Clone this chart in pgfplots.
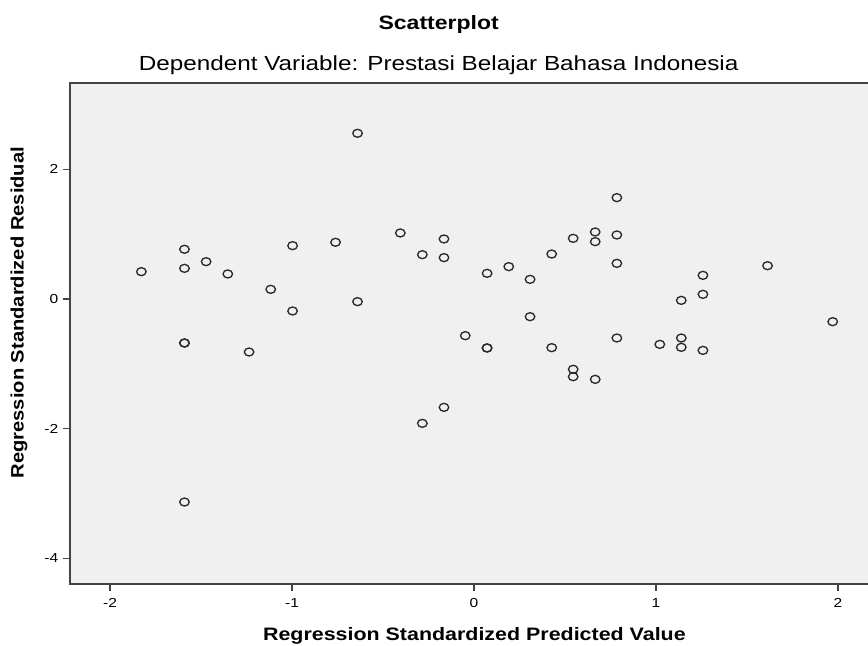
\documentclass[border=0pt]{standalone}
\usepackage{fontspec}
\setmainfont{Liberation Sans}[FakeStretch=1.19]
\newfontfamily\ylabfont{Liberation Sans}[FakeStretch=1.12]
\usepackage{pgfplots}
\pgfplotsset{compat=1.18}
\definecolor{plotbg}{HTML}{F0F0F0}
\definecolor{axline}{HTML}{444444}
\definecolor{mk}{HTML}{2A2A2A}
\pgfplotstableread{
x y
-1.828 0.422
-1.591 0.767
-1.591 0.473
-1.591 -0.679
-1.591 -0.679
-1.591 -3.133
-1.472 0.576
-1.353 0.386
-1.236 -0.818
-1.117 0.149
-0.997 0.823
-0.997 -0.185
-0.761 0.875
-0.640 2.557
-0.640 -0.041
-0.405 1.019
-0.284 0.684
-0.284 -1.919
-0.165 0.926
-0.165 0.638
-0.165 -1.672
-0.048 -0.566
0.072 0.396
0.072 -0.756
0.072 -0.756
0.191 0.499
0.308 0.303
0.308 -0.273
0.427 0.694
0.427 -0.751
0.545 0.936
0.545 -1.085
0.545 -1.199
0.666 1.034
0.666 0.885
0.666 -1.240
0.785 1.564
0.785 0.988
0.785 0.550
0.785 -0.602
1.021 -0.700
1.139 -0.021
1.139 -0.602
1.139 -0.746
1.258 0.365
1.258 0.072
1.258 -0.793
1.613 0.514
1.971 -0.350
}\residuals
\begin{document}
\begin{tikzpicture}
\begin{axis}[
  at={(52.5pt,46.5pt)}, anchor=south west,
  scale only axis, width=606pt, height=375.75pt,
  xmin=-2.22, xmax=2.22, ymin=-4.398, ymax=3.333,
  axis background/.style={fill=plotbg},
  axis line style={axline, line width=1pt},
  xtick={-2,-1,0,1,2}, ytick={-4,-2,0,2},
  tick pos=left, tick align=outside,
  major tick length=5.25pt,
  tick style={axline, line width=0.9pt},
  /pgf/number format/assume math mode=true,
  tick label style={font=\fontsize{9.8}{11}\selectfont, text=black},
  xticklabel style={yshift=-2pt},
]
\addplot[only marks, mark=o, mark size=3pt,
  mark options={xscale=1.19, draw=mk, line width=1pt}] table {\residuals};
\end{axis}
\node[anchor=base, font=\bfseries\fontsize{14.5}{17}\selectfont] at (329pt,462.5pt) {Scatterplot};
\node[anchor=base, font=\fontsize{15.3}{18}\selectfont] at (329pt,431.5pt) {Dependent Variable: Prestasi Belajar Bahasa Indonesia};
\node[anchor=base, font=\bfseries\fontsize{13.5}{16}\selectfont] at (355.8pt,3.75pt) {Regression Standardized Predicted Value};
\node[rotate=90, anchor=center, font=\ylabfont\bfseries\fontsize{13.5}{16}\selectfont] at (14.25pt,250pt) {Regression Standardized Residual};
\pgfresetboundingbox
\useasboundingbox (0,0) rectangle (651pt,484.5pt);
\end{tikzpicture}
\end{document}
